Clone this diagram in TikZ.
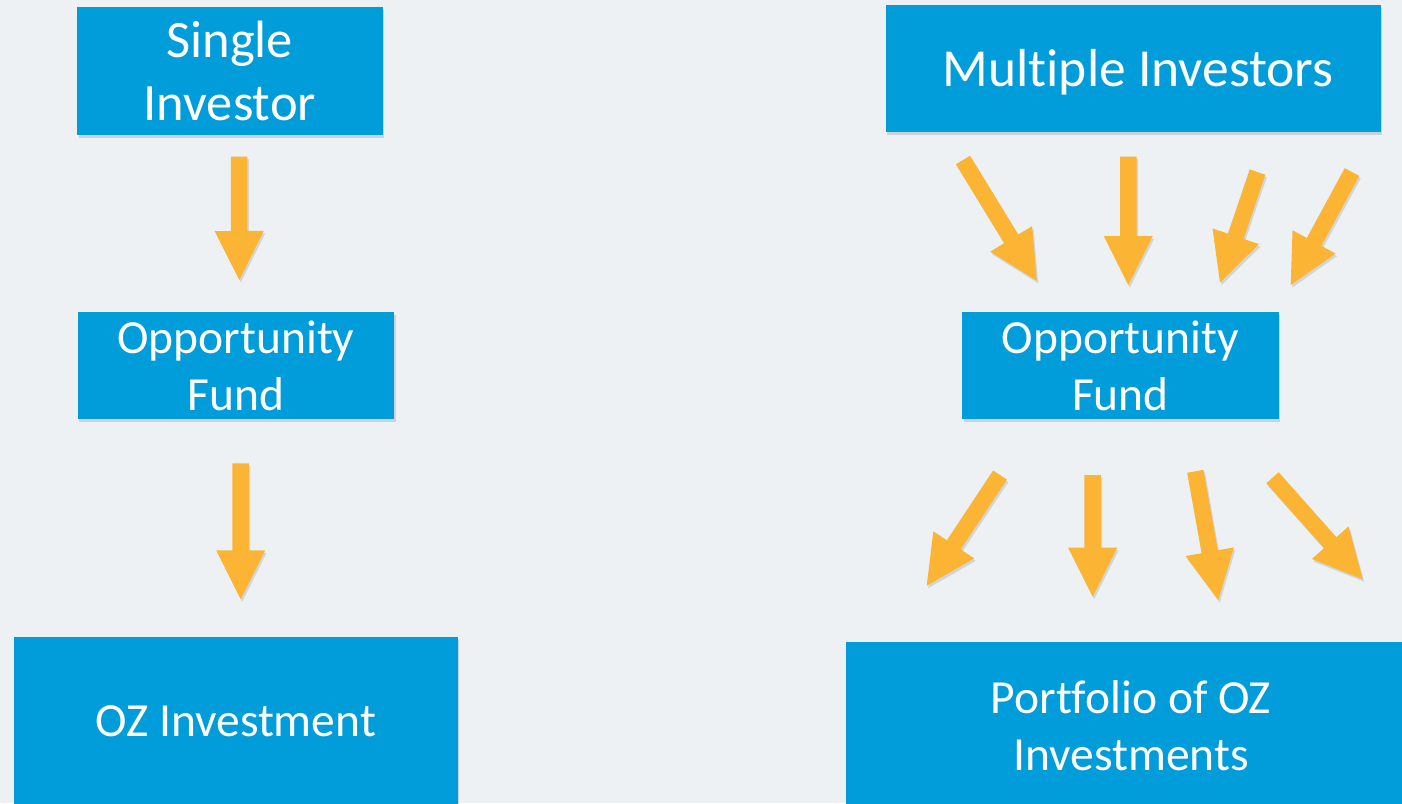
\documentclass[tikz,border=0pt]{standalone}
\usepackage{fontspec}
\setmainfont[Ligatures={NoCommon},RawFeature={-clig}]{Carlito}
\usetikzlibrary{calc,shadows}
\definecolor{bgc}{RGB}{237,241,244}
\definecolor{boxc}{RGB}{0,157,218}
\definecolor{arrc}{RGB}{251,180,52}
\tikzset{
  bluebox/.style={fill=boxc, text=white, inner sep=0pt, align=center,
    drop shadow={shadow xshift=1.5pt, shadow yshift=-3pt, opacity=0.22, fill=black!60}},
  bigtxt/.style={font=\fontsize{52.5}{63}\selectfont},
  medtxt/.style={font=\fontsize{47.5}{57}\selectfont},
  orangearrow/.style={fill=arrc,
    drop shadow={shadow xshift=1.5pt, shadow yshift=-2.5pt, opacity=0.2, fill=black!60}}
}
\newcommand\blockarrow[2]{%
  \coordinate (#1-b) at ($(#2)!49pt!(#1)$);
  \fill[orangearrow]
    ($(#1)!8.25pt!90:(#2)$) -- ($(#1-b)!8.25pt!90:(#2)$) --
    ($(#1-b)!24.5pt!90:(#2)$) -- (#2) --
    ($(#1-b)!24.5pt!-90:(#2)$) -- ($(#1-b)!8.25pt!-90:(#2)$) --
    ($(#1)!8.25pt!-90:(#2)$) -- cycle;
}
\begin{document}
\begin{tikzpicture}[x=1pt,y=-1pt]
\fill[bgc] (0,0) rectangle (1402,803);
\useasboundingbox (0,0) rectangle (1402,803);
% boxes
\node[bluebox,bigtxt,minimum width=305.7pt,minimum height=127.7pt] (single) at (229.85,70.85) {Single\\Investor};
\node[bluebox,font=\fontsize{53.5}{63}\selectfont,minimum width=495pt,minimum height=127.3pt] (multi) at (1133.2,68.65) {\hspace*{10pt}\raisebox{-4pt}[\height][\depth]{Multiple Investors}};
\node[bluebox,medtxt,minimum width=316.6pt,minimum height=107.6pt] (ofl) at (236,365.5) {Opportunity\\Fund};
\node[bluebox,medtxt,minimum width=316.6pt,minimum height=107.6pt] (ofr) at (1120.5,365.5) {Opportunity\\Fund};
\node[bluebox,medtxt,minimum width=443.7pt,minimum height=170pt] (oz) at (235.85,721.7) {OZ Investment};
\node[bluebox,medtxt,minimum width=570pt,minimum height=168pt] (port) at (1131,726) {Portfolio of OZ\\Investments};
% arrow coordinates
\coordinate (l1t) at (239,156.7);   \coordinate (l1h) at (239.3,280);
\coordinate (l2t) at (240.7,463.3); \coordinate (l2h) at (240.7,599.3);
\coordinate (at) at (963,160);      \coordinate (ah) at (1036.7,280.7);
\coordinate (bt) at (1128.3,156.7); \coordinate (bh) at (1128.3,285);
\coordinate (ct) at (1257.5,172);   \coordinate (ch) at (1220,282.7);
\coordinate (dt) at (1352,172);     \coordinate (dh) at (1290.7,285);
\coordinate (et) at (1000,475);     \coordinate (eh) at (926.7,585.7);
\coordinate (ft) at (1092.7,475);   \coordinate (fh) at (1092.7,596.7);
\coordinate (gt) at (1195.3,471.3); \coordinate (gh) at (1218.3,600);
\coordinate (ht) at (1272.5,477.7); \coordinate (hh) at (1362.7,579.3);
\blockarrow{l1t}{l1h}
\blockarrow{l2t}{l2h}
\blockarrow{at}{ah}
\blockarrow{bt}{bh}
\blockarrow{ct}{ch}
\blockarrow{dt}{dh}
\blockarrow{et}{eh}
\blockarrow{ft}{fh}
\blockarrow{gt}{gh}
\blockarrow{ht}{hh}
\end{tikzpicture}
\end{document}
